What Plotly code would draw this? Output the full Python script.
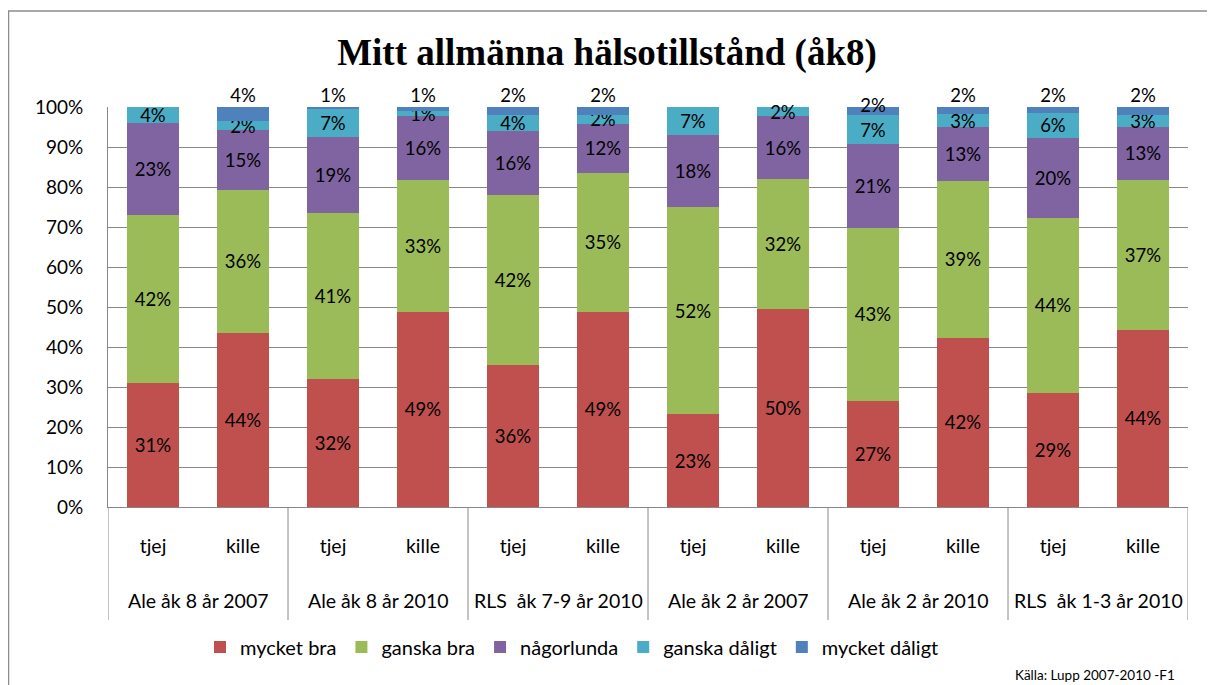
import plotly.graph_objects as go

groups = ["Ale åk 8 år 2007", "Ale åk 8 år 2010", "RLS  åk 7-9 år 2010",
          "Ale åk 2 år 2007", "Ale åk 2 år 2010", "RLS  åk 1-3 år 2010"]
genders = ["tjej", "kille"]

series_names = ["mycket bra", "ganska bra", "någorlunda", "ganska dåligt", "mycket dåligt"]
colors = ["#C0504D", "#9BBB59", "#8064A2", "#4BACC6", "#4F81BD"]

mycket_bra    = [31.0, 43.6, 32.1, 48.8, 35.6, 48.8, 23.2, 49.5, 26.6, 42.3, 28.6, 44.3]
ganska_bra    = [42.0, 35.7, 41.3, 33.0, 42.3, 34.7, 51.8, 32.4, 43.2, 39.2, 43.7, 37.4]
nagorlunda    = [23.0, 14.9, 19.0, 16.0, 16.1, 12.3, 18.0, 15.8, 20.9, 13.4, 20.0, 13.4]
ganska_daligt = [4.0, 2.3, 7.0, 1.1, 4.0, 2.2, 7.0, 2.3, 7.3, 3.3, 6.2, 3.0]
mycket_daligt = [0.0, 3.5, 0.6, 1.1, 2.0, 2.0, 0.0, 0.0, 2.0, 1.8, 1.5, 1.9]

series_values = [mycket_bra, ganska_bra, nagorlunda, ganska_daligt, mycket_daligt]

x_keys = [f"{g}|{s}" for g in groups for s in genders]
x_ticktext = [s for _ in groups for s in genders]

FONT = "Lato"
GRID = "#888888"

# page body has an 8px margin: the figure starts at (8, 8)
W, H = 1207, 677
L, R, T, B = 100, 27, 99, 178
PW, PH = W - L - R, H - T - B


def px_x(x):  # figure pixel -> paper
    return (x - L) / PW


def px_y(y):
    return (H - B - y) / PH


fig = go.Figure()
for i, (name, vals, col) in enumerate(zip(series_names, series_values, colors)):
    is_top = i == len(series_names) - 1
    texts = [f"{round(v)}%" if round(v) > 0 else "" for v in vals]
    fig.add_trace(go.Bar(
        x=x_keys, y=vals, name=name,
        marker=dict(color=col, line=dict(width=0)),
        text=None if is_top else texts,
        textposition="none" if is_top else "inside",
        insidetextanchor="middle",
        textfont=dict(family=FONT, size=18.5, color="black"),
        width=0.57,
        cliponaxis=False,
    ))

# labels of the top series sit just above each stack (one was nudged down in the original)
totals = [sum(v[k] for v in series_values) for k in range(len(x_keys))]
top_texts = [f"{round(v)}%" if round(v) > 0 else "" for v in mycket_daligt]
top_positions = ["top center"] * len(x_keys)
top_positions[8] = "middle center"
fig.add_trace(go.Scatter(
    x=x_keys, y=totals, mode="text", text=top_texts,
    textposition=top_positions, showlegend=False, hoverinfo="skip",
    textfont=dict(family=FONT, size=18.5, color="black"), cliponaxis=False,
))

fig.update_layout(
    barmode="stack",
    width=W, height=H,
    paper_bgcolor="white", plot_bgcolor="white",
    margin=dict(l=L, r=R, t=T, b=B, autoexpand=False),
    font=dict(family=FONT, size=19, color="black"),
    uniformtext=dict(minsize=18.5, mode="show"),
    title=dict(text="<b>Mitt allmänna hälsotillstånd (åk8)</b>",
               x=599 / W, xanchor="center", y=1 - 44 / H, yanchor="middle",
               font=dict(family="Liberation Serif", size=37, color="black")),
    legend=dict(orientation="h", x=px_x(564), xanchor="center", y=px_y(639), yanchor="middle",
                font=dict(family=FONT, size=20), traceorder="normal",
                itemwidth=30),
    showlegend=True,
)
fig.update_yaxes(range=[0, 100], dtick=10, ticksuffix="%",
                 showgrid=True, gridcolor=GRID, gridwidth=1,
                 showline=True, linecolor=GRID, linewidth=1,
                 zeroline=False, tickfont=dict(family=FONT, size=19),
                 ticks="", ticklabelstandoff=20)
fig.update_xaxes(type="category", tickvals=x_keys, ticktext=x_ticktext,
                 range=[-0.5, len(x_keys) - 0.5],
                 showline=True, linecolor=GRID, linewidth=1, showgrid=False,
                 tickfont=dict(family=FONT, size=19.5), ticks="", ticklabelstandoff=22)

# group labels and dividers of the two-level category axis
for gi, g in enumerate(groups):
    fig.add_annotation(text=g, xref="x", yref="paper", x=gi * 2 + 0.5, y=px_y(592),
                       xanchor="center", yanchor="middle", showarrow=False,
                       font=dict(family=FONT, size=19.5, color="black"))
for gi in range(len(groups) + 1):
    fig.add_shape(type="line", xref="x", yref="paper", x0=gi * 2 - 0.5, x1=gi * 2 - 0.5,
                  y0=0, y1=px_y(612), line=dict(color=GRID, width=1))

fig.add_shape(type="rect", xref="paper", yref="paper",
              x0=px_x(0.5), x1=px_x(W + 10),
              y0=px_y(H + 10), y1=px_y(3),
              line=dict(color="#8C8C8C", width=1.5), fillcolor="rgba(0,0,0,0)", layer="below")

fig.add_annotation(text="Källa: Lupp 2007-2010 -F1", xref="paper", yref="paper",
                   x=px_x(1169), y=px_y(667), xanchor="right", yanchor="middle",
                   showarrow=False, font=dict(family=FONT, size=13.5, color="black"))

fig.write_html("out.html")
